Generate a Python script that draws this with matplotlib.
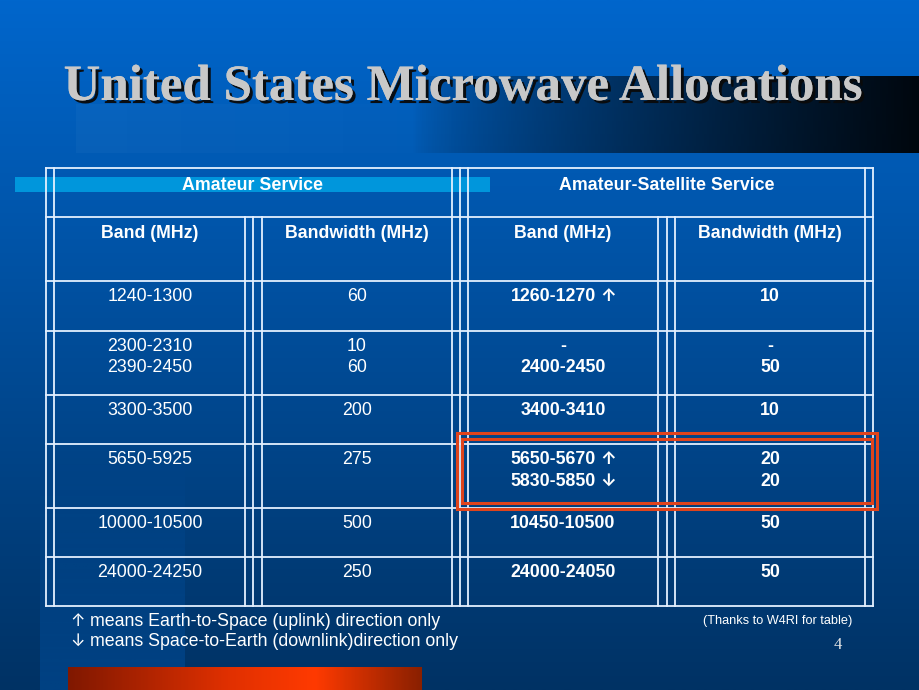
import numpy as np
import matplotlib
matplotlib.use("Agg")
import matplotlib.pyplot as plt
import matplotlib.patheffects as pe
from matplotlib.colors import LinearSegmentedColormap
from matplotlib.patches import Rectangle
from matplotlib.offsetbox import TextArea, HPacker, AnnotationBbox

plt.rcParams['font.family'] = ['Liberation Sans', 'DejaVu Sans']

# table data
group_titles = ["Amateur Service", "Amateur-Satellite Service"]
col_titles = ["Band (MHz)", "Bandwidth (MHz)", "Band (MHz)", "Bandwidth (MHz)"]
amateur_band = ["1240-1300", "2300-2310\n2390-2450", "3300-3500", "5650-5925",
                "10000-10500", "24000-24250"]
amateur_bw = ["60", "10\n60", "200", "275", "500", "250"]
sat_band = ["1260-1270 \u2191", "-\n2400-2450", "3400-3410",
            "5650-5670 \u2191\n5830-5850 \u2193", "10450-10500", "24000-24050"]
sat_bw = ["10", "-\n50", "10", "20\n20", "50", "50"]
highlight_row = 3

notes = ["\u2191 means Earth-to-Space (uplink) direction only",
         "\u2193 means Space-to-Earth (downlink)direction only"]

ARROWS = ("\u2191", "\u2193")
ARROW_FONT = ['Inter', 'DejaVu Sans']
W, H = 920, 690
fig = plt.figure(figsize=(9.2, 6.9), dpi=100)
ax = fig.add_axes([0, 0, 1, 1])


def put(x, y, s, fs, wt='normal', align=0.5, afs=None, awt='bold', sep=3.5):
    # text line; a leading/trailing arrow gets a heavier glyph from another font
    afs = afs or fs
    if s[-1] in ARROWS:
        parts = [(s[:-1].rstrip(), False), (s[-1], True)]
    elif s[0] in ARROWS:
        parts = [(s[0], True), (s[1:].lstrip(), False)]
    else:
        ax.text(x, y, s, ha={0: 'left', 0.5: 'center'}[align], va='center',
                fontsize=fs, fontweight=wt, color='white', zorder=6)
        return
    kids = []
    for txt, is_arrow in parts:
        if is_arrow:
            tp = dict(color='white', fontsize=afs, fontweight=awt, family=ARROW_FONT)
        else:
            tp = dict(color='white', fontsize=fs, fontweight=wt)
        kids.append(TextArea(txt, textprops=tp))
    box = HPacker(children=kids, align='baseline', pad=0, sep=sep)
    ab = AnnotationBbox(box, (x, y), xycoords='data', frameon=False,
                        box_alignment=(align, 0.5), pad=0, zorder=6)
    ax.add_artist(ab)


# background vertical gradient
top = np.array([0, 102, 204]) / 255
bot = np.array([0, 50, 100]) / 255
t = np.linspace(0, 1, 256)[:, None, None]
bg = top * (1 - t) + bot * t
ax.imshow(bg, extent=(0, W, H, 0), aspect='auto', zorder=0)

# subtle lighter strip at bottom left
a = np.clip((np.linspace(0, 1, 128) - 0.3) / 0.7, 0, 1) * 0.3
strip = np.zeros((128, 1, 4))
strip[:, 0, :3] = [0.0, 0.40, 0.80]
strip[:, 0, 3] = a
ax.imshow(strip, extent=(40, 185, H, 350), aspect='auto', zorder=1)

# title band, dark to the right
xs = np.linspace(0, 1, 400)
band = np.zeros((1, 400, 4))
band[0, :, 3] = np.clip((xs - 0.4) / 0.6, 0, 1) ** 0.7 * 0.93
ax.imshow(band, extent=(76, W, 153, 76), aspect='auto', zorder=1)
glow = np.ones((1, 200, 4))
glow[0, :, 3] = np.linspace(0.035, 0, 200)
ax.imshow(glow, extent=(76, 560, 153, 104), aspect='auto', zorder=1)

# title with shadow
title = "United States Microwave Allocations"
ax.text(463.5, 100, title, ha='center', va='baseline', fontsize=36.7, fontweight='bold',
        family=['Liberation Serif', 'DejaVu Serif'], color='#C8C8C8', zorder=4,
        path_effects=[pe.withSimplePatchShadow(offset=(2.2, -2.2), shadow_rgbFace='#0a0a0a',
                                               alpha=0.95), pe.Normal()])

# light blue header bar
ax.add_patch(Rectangle((15, 177), 475, 15, color='#0096DC', lw=0, zorder=2))

# table grid
lc = '#E4F0FF'
lw = 1.3
row_lines = [168, 217, 281, 331, 395, 444, 508, 557, 606]
full_v = [46, 54, 452, 460, 468, 865, 873]
part_v = [245, 253, 262, 658, 667, 675]
for y in row_lines:
    ax.plot([46, 873], [y, y], color=lc, lw=lw, zorder=5)
for x in full_v:
    ax.plot([x, x], [168, 606], color=lc, lw=lw, zorder=5)
for x in part_v:
    ax.plot([x, x], [217, 606], color=lc, lw=lw, zorder=5)

fs = 12.8
put(253, 185, group_titles[0], fs, 'bold')
put(667, 185, group_titles[1], fs, 'bold')

col_x = [150, 357, 563, 770]
for cx, s in zip(col_x, col_titles):
    put(cx, 234, s, fs, 'bold')

columns = [amateur_band, amateur_bw, sat_band, sat_bw]
weights = ['normal', 'normal', 'bold', 'bold']
row_tops = row_lines[2:-1]
for ci, (col, wt) in enumerate(zip(columns, weights)):
    for ri, cell in enumerate(col):
        for li, line in enumerate(cell.split("\n")):
            put(col_x[ci], row_tops[ri] + 15.5 + li * 21.5, line, fs, wt, afs=12.5, sep=3)

# red highlight box around one satellite row
y0 = row_lines[2 + highlight_row]
ax.add_patch(Rectangle((457, y0 - 11), 420, 76, fill=False, ec='#E0441C', lw=2.2, zorder=7))
ax.add_patch(Rectangle((462, y0 - 5), 410, 64, fill=False, ec='#E0441C', lw=2.2, zorder=7))

# notes
for i, n in enumerate(notes):
    put(70, 621 + i * 20.5, n, 12.8, align=0, afs=12.5, awt='normal', sep=4)
ax.text(852, 621, "(Thanks to W4RI for table)", ha='right', va='center', fontsize=9.2,
        color='white', zorder=6)
ax.text(838, 645, "4", ha='center', va='center', fontsize=12,
        family=['Liberation Serif', 'DejaVu Serif'], color='#E8E8E8', zorder=6)

# orange gradient bar at bottom
ocmap = LinearSegmentedColormap.from_list('o', [(0, '#801800'), (0.45, '#E03000'),
                                                (0.7, '#FF3A00'), (1, '#8A2000')])
ax.imshow(np.linspace(0, 1, 300)[None, :], cmap=ocmap, extent=(68, 422, H, 667),
          aspect='auto', zorder=2)

ax.set_xlim(0, W)
ax.set_ylim(H, 0)
ax.axis('off')
fig.savefig("out.png", dpi=100)
